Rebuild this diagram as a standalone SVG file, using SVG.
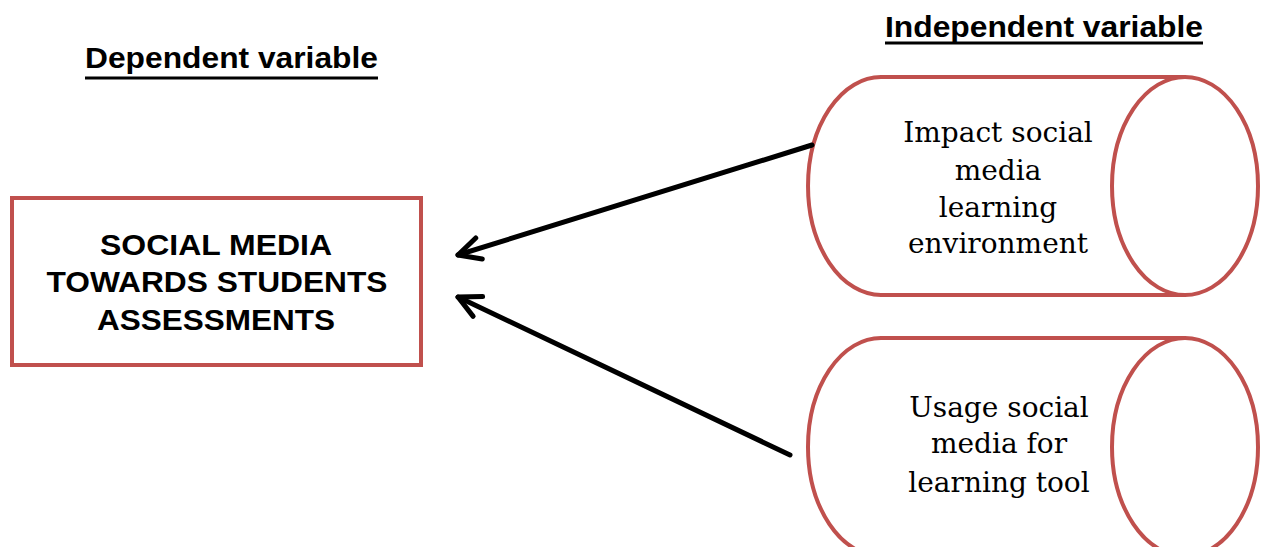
<svg xmlns="http://www.w3.org/2000/svg" width="1262" height="547" viewBox="0 0 1262 547">
<defs>
<style>
.shape{fill:#fff;stroke:#c0504d;stroke-width:4}
.title{font-family:"Liberation Sans",Arial,sans-serif;font-weight:bold;font-size:29px;fill:#000}
.box{font-family:"Liberation Sans",Arial,sans-serif;font-weight:bold;font-size:30px;fill:#000;text-anchor:middle}
.cyl{font-family:"DejaVu Serif",serif;font-size:28px;fill:#000;text-anchor:middle}
.ul{stroke:#000;stroke-width:3}
.conn{stroke:#000;stroke-width:5;fill:none;stroke-linecap:round}
</style>
<marker id="arrow" markerUnits="userSpaceOnUse" markerWidth="40" markerHeight="40" refX="0" refY="0" viewBox="-30 -20 40 40" orient="auto">
<path d="M-22,-11 L0,0 L-22,11" fill="none" stroke="#000" stroke-width="5" stroke-linecap="round" stroke-linejoin="round"/>
</marker>
</defs>
<rect width="1262" height="547" fill="#fff"/>
<g id="title-dependent">
<text class="title" x="85" y="68" textLength="293" lengthAdjust="spacingAndGlyphs">Dependent variable</text>
<line class="ul" x1="85" y1="78" x2="378" y2="78"/>
</g>
<g id="title-independent">
<text class="title" x="885" y="37" textLength="318" lengthAdjust="spacingAndGlyphs">Independent variable</text>
<line class="ul" x1="885" y1="43" x2="1203" y2="43"/>
</g>
<g id="node-dependent">
<rect class="shape" x="12" y="198" width="409" height="167"/>
<text class="box" x="216" y="255" textLength="232" lengthAdjust="spacingAndGlyphs">SOCIAL MEDIA</text>
<text class="box" x="217" y="292" textLength="341" lengthAdjust="spacingAndGlyphs">TOWARDS STUDENTS</text>
<text class="box" x="216" y="330" textLength="238" lengthAdjust="spacingAndGlyphs">ASSESSMENTS</text>
</g>
<g id="node-impact">
<path class="shape" d="M1185,77 L881,77 A73,109 0 0 0 881,295 L1185,295"/>
<ellipse class="shape" cx="1185" cy="186" rx="73" ry="109"/>
<text class="cyl" x="998" y="142">Impact social</text>
<text class="cyl" x="998" y="180">media</text>
<text class="cyl" x="998" y="217">learning</text>
<text class="cyl" x="998" y="253">environment</text>
</g>
<g id="node-usage">
<path class="shape" d="M1185,338 L881,338 A73,109 0 0 0 881,556 L1185,556"/>
<ellipse class="shape" cx="1185" cy="447" rx="73" ry="109"/>
<text class="cyl" x="999" y="417">Usage social</text>
<text class="cyl" x="999" y="453">media for</text>
<text class="cyl" x="999" y="492">learning tool</text>
</g>
<g id="connectors">
<line class="conn" x1="812" y1="145" x2="458" y2="255" marker-end="url(#arrow)"/>
<line class="conn" x1="790" y1="455" x2="458" y2="297" marker-end="url(#arrow)"/>
</g>
</svg>
